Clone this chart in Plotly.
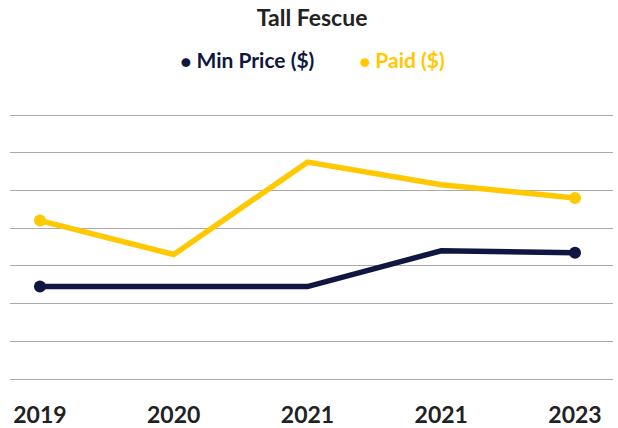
import plotly.graph_objects as go

years = ["2019", "2020", "2021", "2021", "2023"]
min_price = [0.49, 0.49, 0.49, 0.68, 0.67]
paid = [0.84, 0.66, 1.15, 1.03, 0.96]
y_ticks = [0, 0.2, 0.4, 0.6, 0.8, 1.0, 1.2, 1.4]

NAVY = "#0f1740"
YELLOW = "#ffc800"
idx = list(range(len(years)))
end_sizes = [12 if i in (0, len(years) - 1) else 0 for i in idx]

# small padding so the edge gridlines are kept (plotly drops lines within 1px of the edge)
pad = 4 / 188.57
y_range = [y_ticks[0] - pad, y_ticks[-1] + pad]

fig = go.Figure()
fig.add_trace(go.Scatter(x=idx, y=min_price, mode="lines+markers", name="Min Price ($)",
                         line=dict(color=NAVY, width=5.5),
                         marker=dict(color=NAVY, size=end_sizes, opacity=1, line=dict(width=0)),
                         showlegend=False))
fig.add_trace(go.Scatter(x=idx, y=paid, mode="lines+markers", name="Paid ($)",
                         line=dict(color=YELLOW, width=5.5),
                         marker=dict(color=YELLOW, size=end_sizes, opacity=1, line=dict(width=0)),
                         showlegend=False))
# legend entries (dot drawn as text glyph)
for label, col in (("Min Price ($)", NAVY), ("Paid ($)", YELLOW)):
    fig.add_trace(go.Scatter(
        x=[None], y=[None], mode="markers",
        name=f"<span style='color:{col};font-size:18px'>●</span>"
             f"<span style='color:{col}'><b> {label}</b></span>",
        marker=dict(color="rgba(0,0,0,0)", size=1, opacity=0, line=dict(width=0))))

fig.update_layout(
    width=618, height=428,
    margin=dict(l=10, r=5, t=111, b=45),
    paper_bgcolor="white", plot_bgcolor="white",
    font=dict(family="Lato", color="#222222"),
    title=dict(text="<b>Tall Fescue</b>", x=0.505, xanchor="center", y=0.958, yanchor="middle",
               font=dict(size=23, color="#222222", family="Lato")),
    legend=dict(orientation="h", x=0.4735, xanchor="center", y=1.1875, yanchor="middle",
                font=dict(size=21, family="Lato"), itemwidth=30,
                bgcolor="rgba(0,0,0,0)"),
    xaxis=dict(tickmode="array", tickvals=idx, ticktext=years, range=[-0.224, 4.284],
               showgrid=False, zeroline=False, showline=False, ticks="",
               tickfont=dict(size=23, family="Lato", weight="bold", color="#222222"),
               ticklabelstandoff=16, automargin=False),
    yaxis=dict(range=y_range, tickvals=y_ticks, showticklabels=False, showgrid=True,
               gridcolor="#aaaaaa", gridwidth=1.4, zeroline=False, showline=False,
               automargin=False),
)

fig.write_html("out.html", config={"displayModeBar": False},
               post_script="document.body.style.margin='0';document.body.style.overflow='hidden';")
